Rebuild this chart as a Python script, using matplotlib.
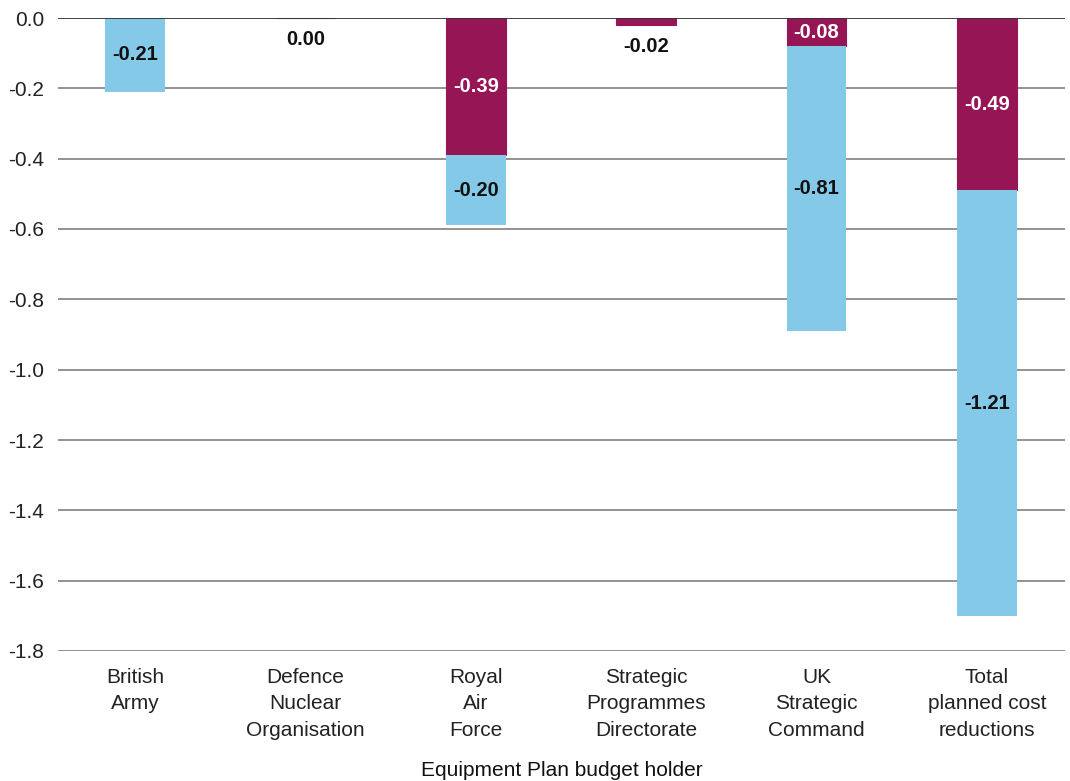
import matplotlib

matplotlib.use("Agg")
import matplotlib.pyplot as plt
import numpy as np

holders = [
    "British\nArmy",
    "Defence\nNuclear\nOrganisation",
    "Royal\nAir\nForce",
    "Strategic\nProgrammes\nDirectorate",
    "UK\nStrategic\nCommand",
    "Total\nplanned cost\nreductions",
]
# upper (maroon) and lower (blue) segments, £bn
upper = [0.00, 0.00, -0.39, -0.02, -0.08, -0.49]
lower = [-0.21, 0.00, -0.20, 0.00, -0.81, -1.21]
yticks = [0.0, -0.2, -0.4, -0.6, -0.8, -1.0, -1.2, -1.4, -1.6, -1.8]

MAROON = "#951555"
BLUE = "#85C9E9"

plt.rcParams["font.family"] = ["Liberation Sans", "DejaVu Sans"]

fig = plt.figure(figsize=(10.7, 7.81), dpi=100)
ax = fig.add_axes([58 / 1070, 1 - 651 / 781, 1007 / 1070, 633 / 781])

x = np.arange(len(holders))
w = 0.35
ax.bar(x, upper, w, color=MAROON, edgecolor=MAROON, lw=0.8, zorder=2)
ax.bar(x, lower, w, bottom=upper, color=BLUE, lw=0, zorder=2)

for i in range(len(holders)):
    u, l = upper[i], lower[i]
    if abs(u) >= 0.05:
        ax.text(x[i], u / 2, f"{u:.2f}", ha="center", va="center",
                color="white", fontsize=14.5, fontweight="bold", zorder=3)
    elif l == 0:
        # tiny segment: label sits under the bar
        ax.text(x[i], u - 0.06, f"{u:.2f}", ha="center", va="center",
                color="#111111", fontsize=14.5, fontweight="bold", zorder=3)
    if l != 0:
        ax.text(x[i], u + l / 2, f"{l:.2f}", ha="center", va="center",
                color="#111111", fontsize=14.5, fontweight="bold", zorder=3)

ax.set_ylim(-1.8, 0)
ax.set_xlim(-0.452, 5.458)
ax.set_yticks(yticks)
ax.set_yticklabels([f"{v:.1f}" for v in yticks])
ax.set_xticks(x)
ax.set_xticklabels(holders, linespacing=1.5)
ax.tick_params(axis="both", length=0, labelsize=15, colors="#222222")
ax.tick_params(axis="x", pad=12)
ax.tick_params(axis="y", pad=10)

for v in yticks[1:]:
    ax.axhline(v, color="#8a8a8a", lw=1.3, zorder=1)
ax.axhline(0, color="#333333", lw=1.3, zorder=4)

for s in ax.spines.values():
    s.set_visible(False)

ax.set_xlabel("Equipment Plan budget holder", fontsize=15, color="#111111", labelpad=15)

fig.savefig("out.png", dpi=100)
